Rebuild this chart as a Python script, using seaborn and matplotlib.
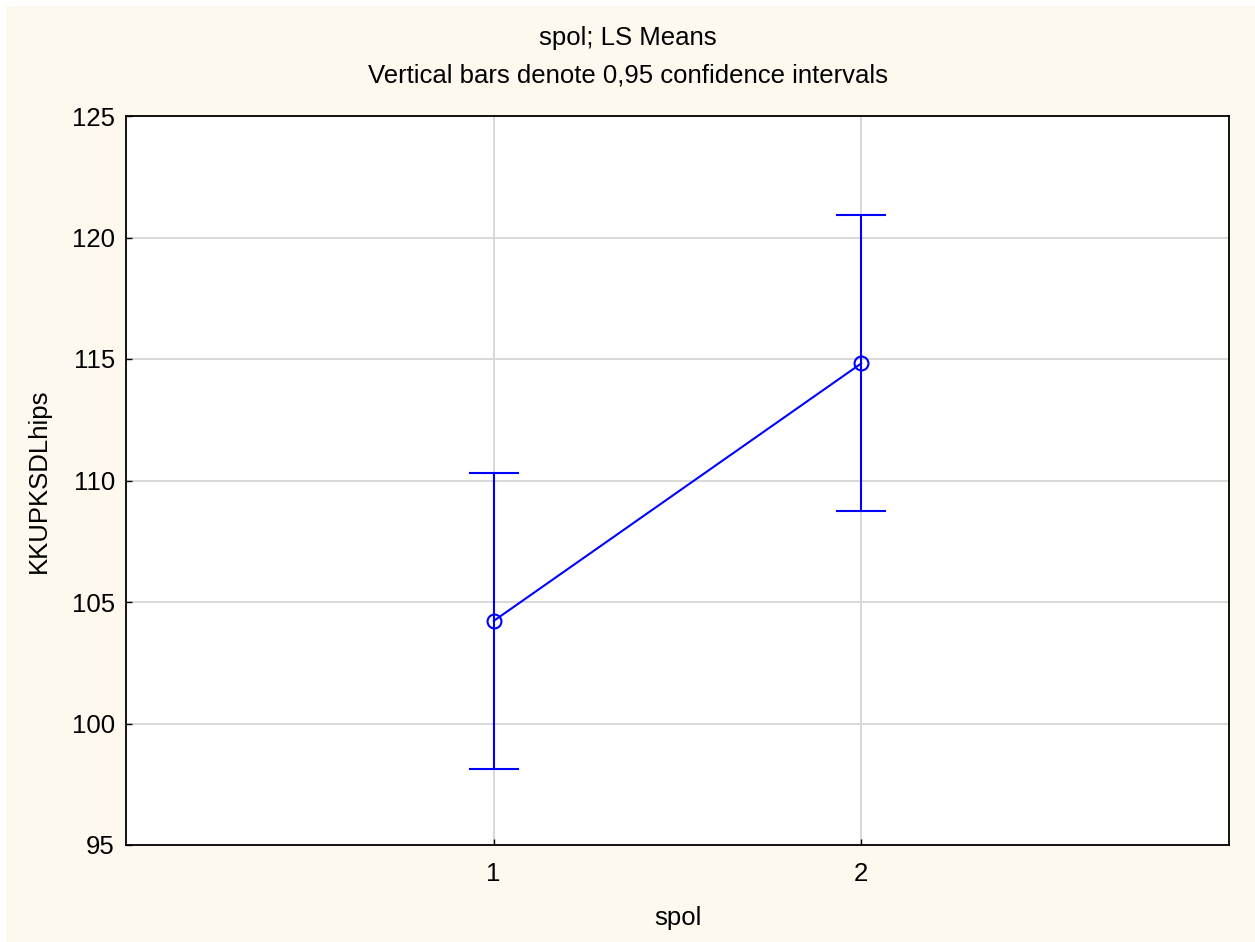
#!/usr/bin/env python3
import matplotlib
matplotlib.use("Agg")
import matplotlib.pyplot as plt
import seaborn as sns
import pandas as pd
from matplotlib.patches import Rectangle

# LS means per group with 0.95 confidence limits
spol = [1, 2]
ls_means = [104.22, 114.82]
ci_low = [98.14, 108.75]
ci_high = [110.29, 120.91]

df = pd.DataFrame({"spol": spol, "mean": ls_means, "low": ci_low, "high": ci_high})

sns.set_style("white")
plt.rcParams["font.family"] = ["Liberation Sans", "DejaVu Sans"]
plt.rcParams["text.color"] = "black"
plt.rcParams["axes.labelcolor"] = "black"

BG = "#FEF9EE"
BLUE = "#0000FF"
FS = 18.5

fig = plt.figure(figsize=(12.55, 9.42), dpi=100, facecolor="white")
fig.patches.append(Rectangle((6 / 1255, 0), 1, 1 - 6 / 942,
                             transform=fig.transFigure, facecolor=BG,
                             edgecolor="none", zorder=-10))
ax = fig.add_axes([126 / 1255, 1 - 845 / 942, (1229 - 126) / 1255, (845 - 116) / 942])
ax.set_facecolor("white")

sns.lineplot(data=df, x="spol", y="mean", ax=ax, color=BLUE, lw=1.5,
             marker="o", markersize=10, markerfacecolor="none",
             markeredgecolor=BLUE, markeredgewidth=1.5, zorder=3)
ax.errorbar(df["spol"], df["mean"],
            yerr=[df["mean"] - df["low"], df["high"] - df["mean"]],
            fmt="none", ecolor=BLUE, elinewidth=1.5, capsize=18, capthick=1.5, zorder=3)

ax.set_xlim(0, 3)
ax.set_ylim(95, 125)
ax.set_xticks(spol)
ax.set_xticklabels([str(s) for s in spol])
ax.set_yticks(range(95, 126, 5))
ax.grid(True, color="#D6D6D6", lw=1.3, zorder=0)
ax.set_axisbelow(True)
for s in ax.spines.values():
    s.set_color("black")
    s.set_linewidth(1.3)
ax.tick_params(axis="both", direction="in", length=4, width=1, labelsize=FS,
               colors="black", left=True, bottom=True)
ax.tick_params(axis="y", pad=8)
ax.tick_params(axis="x", pad=12)

ax.set_xlabel("spol", fontsize=FS, va="center")
ax.set_ylabel("KKUPKSDLhips", fontsize=FS, va="center")
ax.xaxis.set_label_coords(0.5, -(918 - 845) / 729)
ax.yaxis.set_label_coords(-(126 - 39) / 1103, 0.5)

fig.text(0.5, 1 - 38 / 942, "spol; LS Means", ha="center", va="center", fontsize=FS)
fig.text(0.5, 1 - 75 / 942, "Vertical bars denote 0,95 confidence intervals",
         ha="center", va="center", fontsize=FS)

fig.savefig("out.png", dpi=100, facecolor=fig.get_facecolor())
